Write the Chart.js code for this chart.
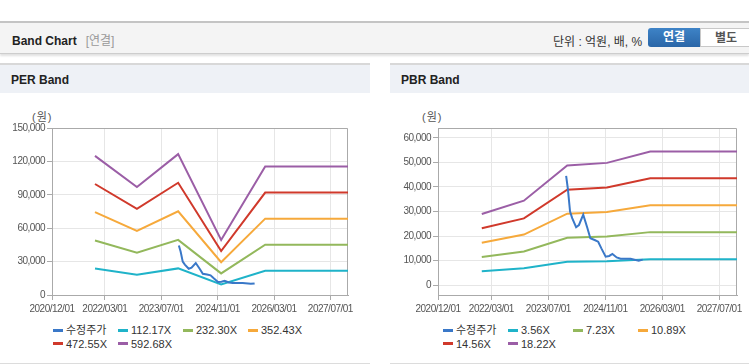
<!DOCTYPE html>
<html lang="ko">
<head>
<meta charset="utf-8">
<title>Band Chart</title>
<script src="https://cdn.jsdelivr.net/npm/chart.js@4.4.1/dist/chart.umd.min.js"></script>
<style>
  body { margin:0; width:749px; height:364px; background:#fff; position:relative; overflow:hidden;
         font-family:"Liberation Sans", Arial, "Noto Sans CJK KR", sans-serif; }
  .head { position:absolute; left:0; top:21px; width:749px; height:30px; background:#f4f4f4;
          border-top:2px solid #c4c4c4; border-bottom:1px solid #cdcdcd; box-shadow:0 2px 2px rgba(0,0,0,.12); }
  .head .ttl { position:absolute; left:12px; top:8px; font-size:12px; font-weight:bold; color:#222; }
  .head .ttl span { font-weight:normal; color:#999; margin-left:9px; }
  .unit { position:absolute; left:553px; top:9px; font-size:12px; color:#333; }
  .btn { position:absolute; top:5px; height:19px; line-height:19px; font-size:12px; font-weight:bold; text-align:center; box-sizing:border-box; }
  .btn.on { left:648px; width:52px; background:linear-gradient(#3e83c7,#2a66a7); color:#fff; border-radius:3px 0 0 3px; }
  .btn.off { left:700px; width:52px; background:#fff; color:#555; border:1px solid #c8c8c8; }
  .panel { position:absolute; top:63px; height:298px; border-top:2px solid #d8d8d8; border-bottom:2px solid #dcdcdc; }
  .panel .bar { height:28px; background:#eef1f6; }
  .panel .bar b { position:absolute; left:11px; top:8px; font-size:12px; color:#222; }
  .unitw { position:absolute; top:108px; font-size:11px; color:#555; letter-spacing:1px; }
  canvas { position:absolute; top:93px; }
  .legend { position:absolute; top:324px; display:flex; flex-wrap:wrap; width:262px; font-size:11px; color:#333; }
  .legend div { width:65px; height:13.5px; line-height:13.5px; white-space:nowrap; }
  .legend i { display:inline-block; width:10px; height:3px; margin-right:3px; vertical-align:middle; position:relative; top:-1px; }
</style>
</head>
<body>
<div class="head">
  <div class="ttl">Band Chart<span>[연결]</span></div>
  <div class="unit">단위 : 억원, 배, %</div>
  <div class="btn on">연결</div>
  <div class="btn off">별도</div>
</div>
<div class="panel" style="left:0;width:370px"><div class="bar"><b>PER Band</b></div></div>
<div class="panel" style="left:390px;width:359px"><div class="bar"><b style="left:11px">PBR Band</b></div></div>
<div class="unitw" style="left:32px">(원)</div>
<div class="unitw" style="left:422px">(원)</div>
<canvas id="per" width="370" height="225" style="left:0"></canvas>
<canvas id="pbr" width="359" height="225" style="left:390px"></canvas>
<div class="legend" id="perLegend" style="left:53px"></div>
<div class="legend" id="pbrLegend" style="left:443px"></div>

<script>
// x axis tick labels and end of axis
const xTickLabels = ['2020/12/01', '2022/03/01', '2023/07/01', '2024/11/01', '2026/03/01', '2027/07/01'];
const xStart = '2020/12/01';
const xEnd = '2027/12/01';

// adjusted price (수정주가)
const priceDates = ['2023/12/01', '2023/12/16', '2024/01/04', '2024/01/22', '2024/02/25', '2024/03/19',
                    '2024/04/25', '2024/05/28', '2024/06/25', '2024/08/01', '2024/09/01', '2024/09/28',
                    '2024/11/04', '2024/12/04', '2025/01/01', '2025/02/07', '2025/03/10', '2025/06/04',
                    '2025/08/13', '2025/09/16'];
const priceValues = [44500, 39000, 30000, 27300, 23600, 24500,
                     28700, 23600, 19100, 18400, 17700, 15000,
                     11600, 11900, 12700, 11300, 10800, 10800,
                     10000, 10400];

// PER band
const perDates = ['2021/12/07', '2022/12/04', '2023/11/25', '2024/12/01', '2025/12/16', '2027/12/01'];
const perLabels = ['112.17X', '232.30X', '352.43X', '472.55X', '592.68X'];
const per112 = [23700, 18300, 23900, 9400, 21800, 21800];
const per232 = [49000, 38000, 49500, 19400, 45200, 45200];
const per352 = [74400, 57600, 75200, 29400, 68600, 68600];
const per472 = [99700, 77300, 100800, 39500, 92000, 92000];
const per592 = [125000, 97000, 126500, 49500, 115500, 115500];
const perTicks = [0, 30000, 60000, 90000, 120000, 150000];

// PBR band
const pbrDates = ['2021/12/10', '2022/12/05', '2023/12/10', '2024/11/15', '2025/11/20', '2027/12/01'];
const pbrLabels = ['3.56X', '7.23X', '10.89X', '14.56X', '18.22X'];
const pbr356 = [5700, 6900, 9500, 9700, 10600, 10600];
const pbr723 = [11500, 13700, 19300, 19800, 21600, 21600];
const pbr1089 = [17300, 20600, 29100, 29800, 32500, 32500];
const pbr1456 = [23200, 27200, 38900, 39800, 43500, 43500];
const pbr1822 = [29000, 34400, 48700, 49800, 54400, 54400];
const pbrTicks = [0, 10000, 20000, 30000, 40000, 50000, 60000];

const colors = ['#3a78c8', '#1fb3c9', '#93b85c', '#f6a93b', '#d0392b', '#9b5ea6'];

function toMonths(s) {
    const p = s.split('/').map(Number);
    return (p[0] - 2020) * 12 + (p[1] - 12) + (p[2] - 1) / 30;
}

function points(dates, values) {
    return dates.map((d, i) => ({ x: toMonths(d), y: values[i] }));
}

Chart.defaults.font.family = '"Liberation Sans", Arial, sans-serif';
Chart.defaults.font.size = 10;
Chart.defaults.color = '#555';

// top/right frame + tighter tick text
const frame = {
    id: 'frame',
    beforeDraw(chart) {
        chart.ctx.letterSpacing = '-0.5px';
    },
    beforeDatasetsDraw(chart) {
        const a = chart.chartArea, ctx = chart.ctx;
        ctx.save();
        ctx.strokeStyle = '#aaa';
        ctx.lineWidth = 1;
        ctx.beginPath();
        ctx.moveTo(a.left, a.top + 0.5);
        ctx.lineTo(a.right - 0.5, a.top + 0.5);
        ctx.lineTo(a.right - 0.5, a.bottom);
        ctx.stroke();
        ctx.restore();
    }
};

function makeChart(id, legendId, bandDates, bands, labels, yTicks, yMin, yMax, yWidth, padRight) {
    let datasets = [{ label: '수정주가', data: points(priceDates, priceValues) }];
    bands.forEach(function (b, i) {
        datasets.push({ label: labels[i], data: points(bandDates, b) });
    });
    datasets.forEach(function (ds, i) {
        ds.borderColor = colors[i];
        ds.backgroundColor = colors[i];
        ds.borderWidth = 2;
        ds.pointRadius = 0;
        ds.tension = 0;
        ds.fill = false;
    });

    const chart = new Chart(document.getElementById(id), {
        type: 'line',
        data: { datasets: datasets },
        options: {
            responsive: false,
            animation: false,
            layout: { padding: { top: 35, right: padRight, left: 0, bottom: 0 } },
            plugins: { legend: { display: false }, tooltip: { enabled: false } },
            scales: {
                x: {
                    type: 'linear',
                    min: toMonths(xStart),
                    max: toMonths(xEnd),
                    afterBuildTicks: (s) => { s.ticks = xTickLabels.map(t => ({ value: toMonths(t) })); },
                    afterFit: (s) => { s.height = 23; },
                    ticks: { autoSkip: false, maxRotation: 0, padding: 3,
                             callback: (v, i) => xTickLabels[i] },
                    grid: { color: '#e6e6e6', tickColor: '#aaa', tickLength: 5 },
                    border: { color: '#aaa' }
                },
                y: {
                    min: yMin,
                    max: yMax,
                    afterBuildTicks: (s) => { s.ticks = yTicks.map(v => ({ value: v })); },
                    afterFit: (s) => { s.width = yWidth; },
                    ticks: { padding: 2, callback: (v) => v.toLocaleString('en-US') },
                    grid: { color: '#e6e6e6', tickColor: '#aaa', tickLength: 5 },
                    border: { color: '#aaa' }
                }
            }
        },
        plugins: [frame]
    });

    const box = document.getElementById(legendId);
    chart.data.datasets.forEach(function (ds) {
        const item = document.createElement('div');
        item.innerHTML = '<i style="background:' + ds.borderColor + '"></i>' + ds.label;
        box.appendChild(item);
    });
    return chart;
}

makeChart('per', 'perLegend', perDates, [per112, per232, per352, per472, per592], perLabels,
          perTicks, 0, 150000, 52, 22);
makeChart('pbr', 'pbrLegend', pbrDates, [pbr356, pbr723, pbr1089, pbr1456, pbr1822], pbrLabels,
          pbrTicks, -4000, 64000, 48, 12);
</script>
</body>
</html>
